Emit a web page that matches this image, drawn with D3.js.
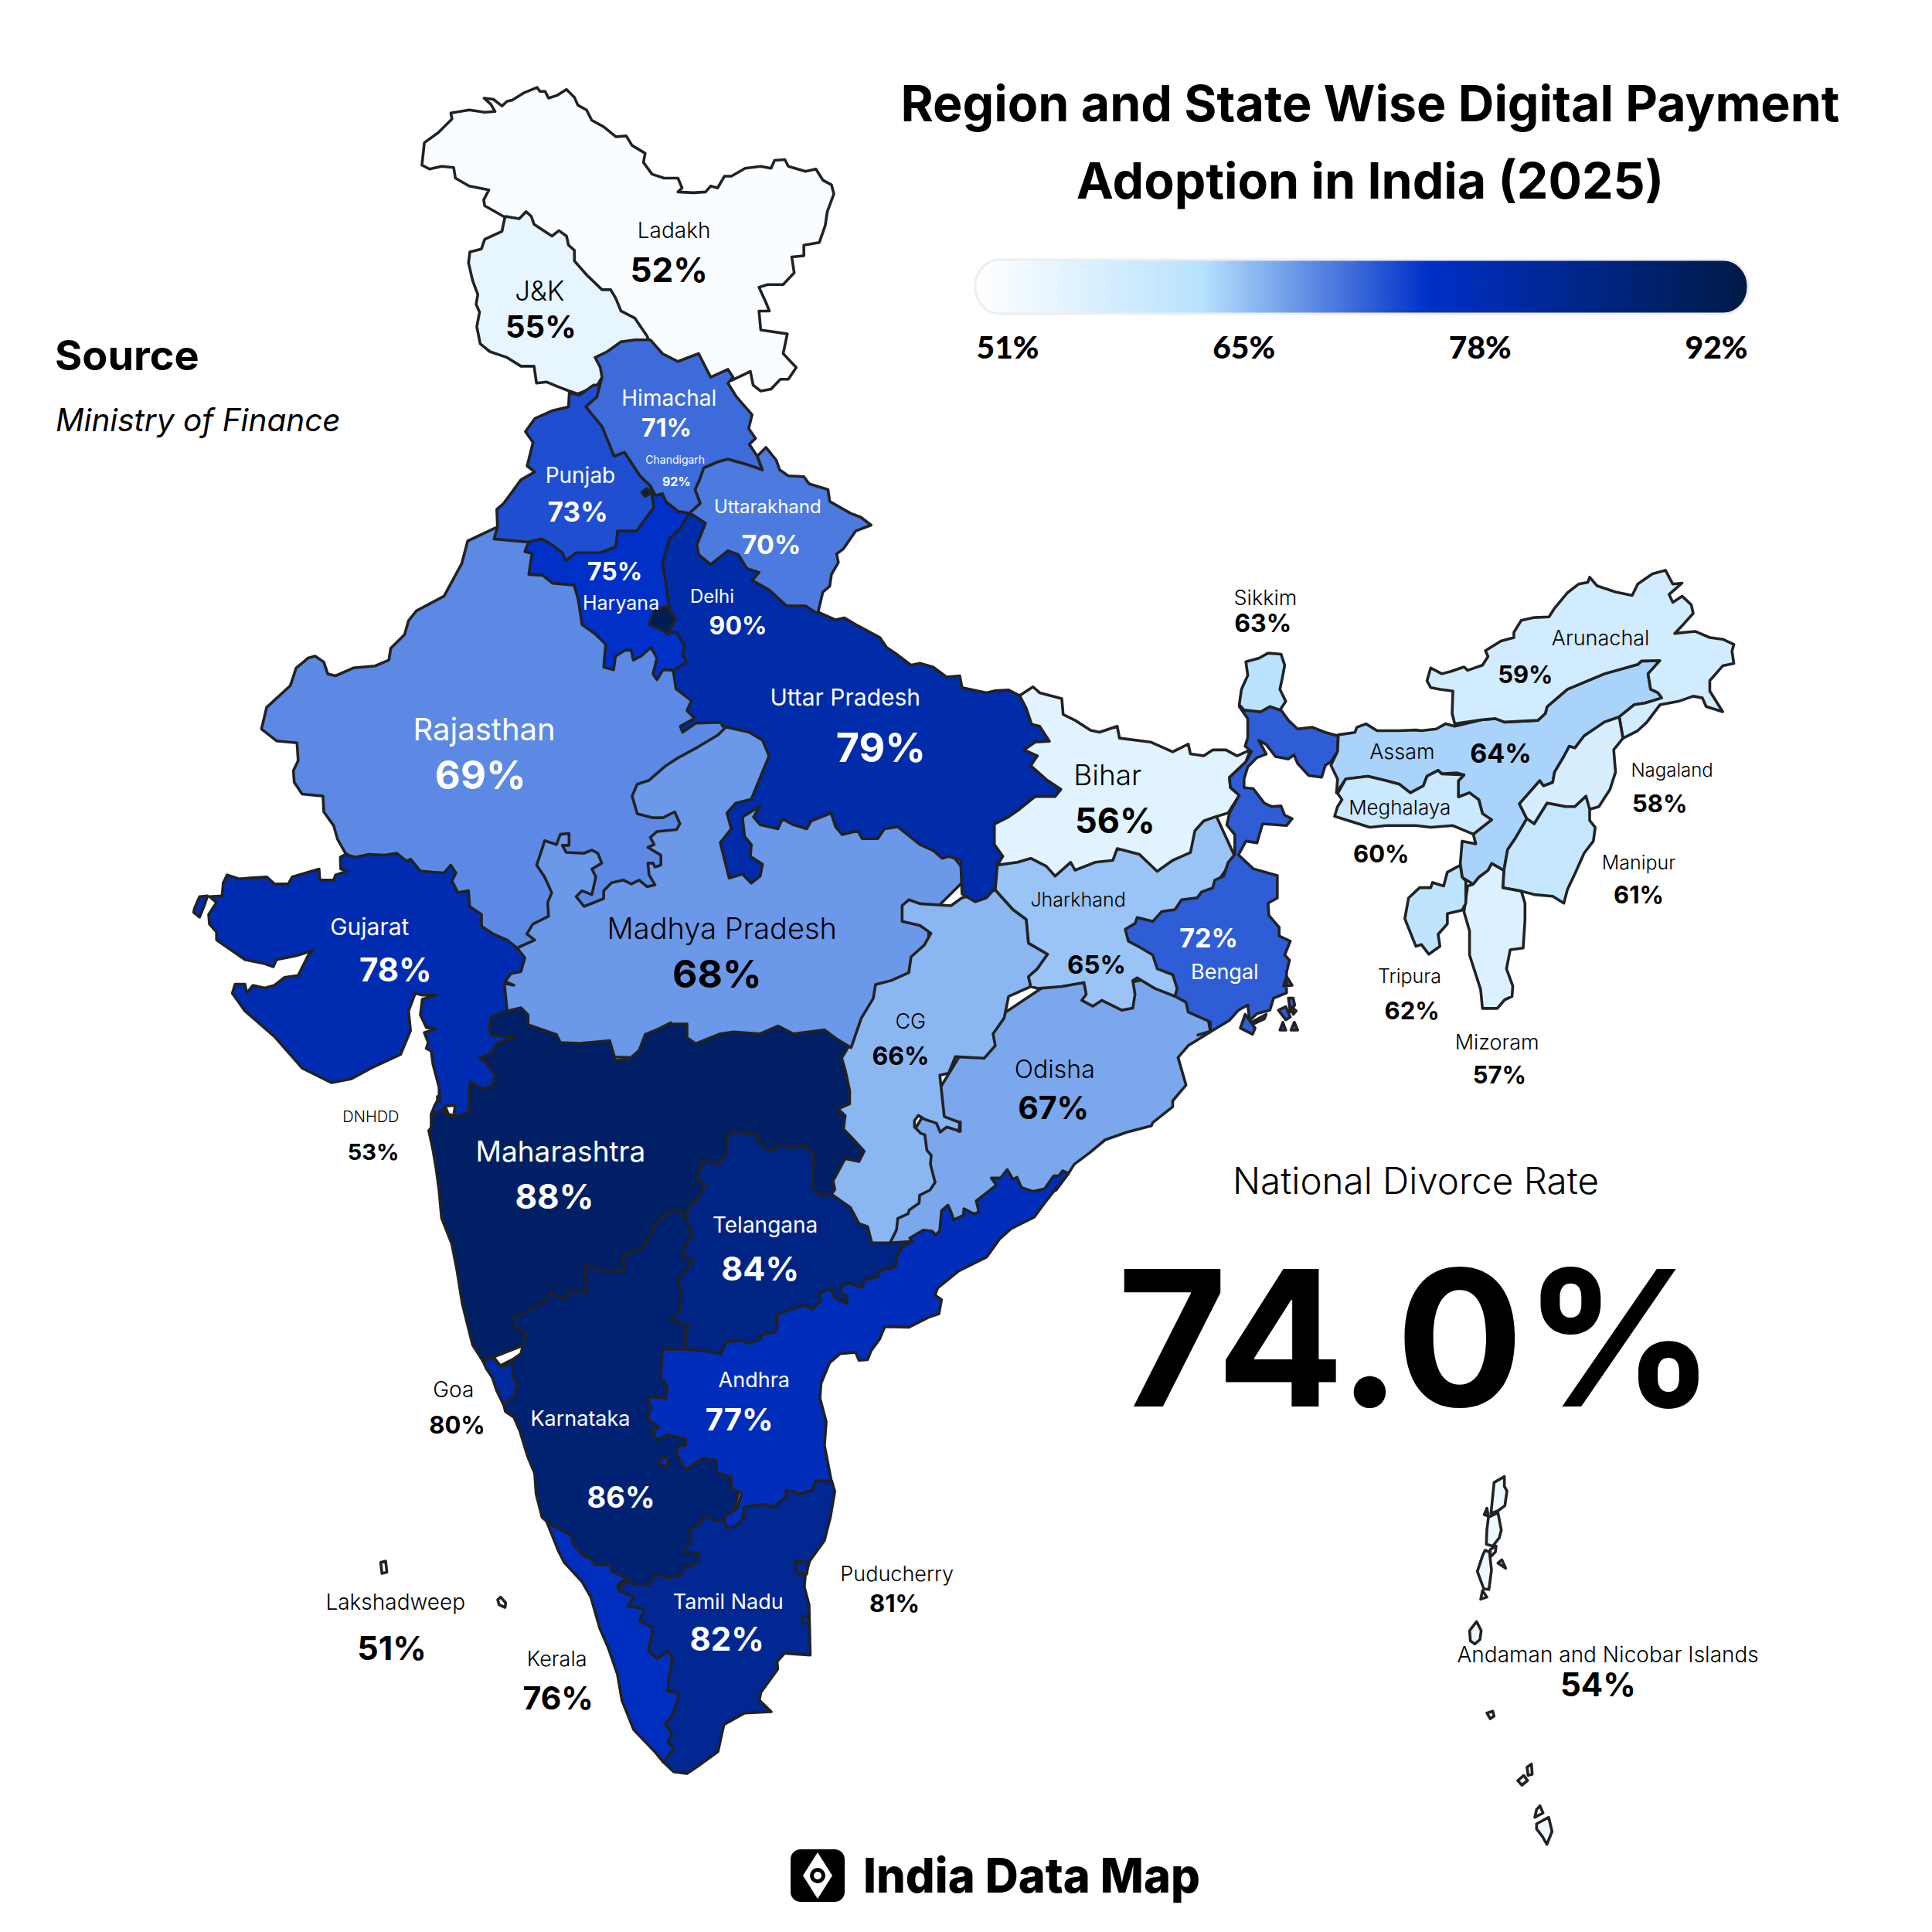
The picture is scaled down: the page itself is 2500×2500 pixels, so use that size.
<!DOCTYPE html>
<html lang="en">
<head>
<meta charset="utf-8">
<title>Region and State Wise Digital Payment Adoption in India (2025)</title>
<script src="https://cdn.jsdelivr.net/npm/d3@7"></script>
<style>
  html, body { margin: 0; background: #fff; }
  text { font-family: Inter, "Noto Sans", sans-serif; }
</style>
</head>
<body>
<script>
// values
var stateNames = ["Ladakh","J&K","Himachal","Punjab","Chandigarh","Uttarakhand","Haryana","Delhi","Rajasthan","Uttar Pradesh","Bihar","Sikkim","Arunachal","Assam","Nagaland","Meghalaya","Manipur","Tripura","Mizoram","Jharkhand","Bengal","Gujarat","Madhya Pradesh","CG","Odisha","DNHDD","Maharashtra","Telangana","Andhra","Goa","Karnataka","Puducherry","Tamil Nadu","Kerala","Lakshadweep","Andaman and Nicobar Islands"];
var stateRates = [52,55,71,73,92,70,75,90,69,79,56,63,59,64,58,60,61,62,57,65,72,78,68,66,67,53,88,84,77,80,86,81,82,76,51,54];
var legendTicks = [51,65,78,92];
var rampStops = [51,63,75,92];
var rampColours = ["#ffffff","#b8e2fe","#0030c8","#001a45"];
var titleLines = ["Region and State Wise Digital Payment","Adoption in India (2025)"];
var nationalLabel = "National Divorce Rate";
var nationalRate = "74.0%";

// label spots in the 1568 px overview: name x,y,size  value x,y,size  colour
var labelSpots = {
  "Ladakh":[547,187,28, 543,219,44,"#000"], "J&K":[438,236,35, 439,265,40,"#000"],
  "Himachal":[543,323,28, 541,347,32,"#fff"], "Punjab":[471,386,28, 469,415,35,"#fff"],
  "Chandigarh":[548,373,14, 549,391,16,"#fff"], "Uttarakhand":[623,411,24, 626,442,34,"#fff"],
  "Haryana":[504,489,25, 499,464,32,"#fff"], "Delhi":[578,484,24, 599,508,32,"#fff"],
  "Rajasthan":[393,592,40, 390,629,51,"#fff"], "Uttar Pradesh":[686,566,30, 715,607,52,"#fff"],
  "Bihar":[899,629,37, 905,666,45,"#000"], "Sikkim":[1027,485,27, 1025,506,32,"#000"],
  "Arunachal":[1299,518,27, 1238,547,31,"#000"], "Assam":[1138,610,27, 1218,611,34,"#000"],
  "Nagaland":[1357,625,24, 1347,652,31,"#000"], "Meghalaya":[1136,655,26, 1121,693,31,"#000"],
  "Manipur":[1330,700,25, 1330,726,31,"#000"], "Tripura":[1144,792,25, 1146,820,31,"#000"],
  "Mizoram":[1215,846,27, 1217,872,31,"#000"], "Jharkhand":[875,730,25, 890,783,33,"#000"],
  "Bengal":[994,789,27, 981,761,34,"#fff"], "Gujarat":[300,752,30, 321,787,42,"#fff"],
  "Madhya Pradesh":[586,753,38, 582,790,50,"#000"], "CG":[739,829,27, 731,857,32,"#000"],
  "Odisha":[856,868,32, 855,899,41,"#000"], "DNHDD":[301,906,20, 303,935,29,"#000"],
  "Maharashtra":[455,934,37, 450,971,44,"#fff"], "Telangana":[621,994,28, 617,1029,43,"#fff"],
  "Andhra":[612,1120,27, 600,1152,40,"#fff"], "Goa":[368,1128,28, 371,1156,31,"#000"],
  "Karnataka":[471,1151,27, 504,1215,38,"#fff"], "Puducherry":[728,1277,27, 726,1301,31,"#000"],
  "Tamil Nadu":[591,1300,27, 590,1330,42,"#fff"], "Kerala":[452,1346,27, 453,1378,41,"#000"],
  "Lakshadweep":[321,1300,28, 318,1337,43,"#000"], "Andaman and Nicobar Islands":[1305,1343,28, 1297,1367,42,"#000"]
};

function sheet(x0, y0, kx, ky) {
  return function(s) {
    return s.trim().split(/\s+/).map(function(p) {
      var c = p.split(",");
      return [x0 + c[0]*kx, y0 + c[1]*ky];
    });
  };
}
var A = sheet(500,80,700/1568,800/1568);
var B = sheet(220,650,800/1568,800/1568);
var C = sheet(800,700,900/1568,800/1568);
var D = sheet(1550,700,750/1568,700/1568);
var E = sheet(520,1350,700/1568,600/1568);
var F = sheet(600,1850,600/1568,1/3);
var G = sheet(1850,1880,1/3,1/3);
var H = sheet(1100,1400,1/3,1/3);
var O = sheet(0,0,2500/1568,2500/1568);

// listed in paint order: later outlines cover the rough edges of earlier ones
var outlines = [
["Ladakh",[A("103,262 110,205 150,180 190,145 187,130 240,122 285,128 315,126 303,108 283,92 310,95 335,112 350,100 365,97 400,78 437,65 445,75 460,75 470,92 495,85 522,70 545,90 555,110 580,122 595,148 630,165 665,190 695,188 712,212 750,232 745,255 770,285 805,295 845,295 857,320 845,330 890,332 925,330 940,315 960,320 980,290 1000,290 1040,270 1085,265 1115,270 1125,250 1155,248 1165,265 1215,278 1245,272 1265,300 1290,312 1297,335 1278,380 1272,415 1255,458 1210,465 1210,492 1175,495 1182,535 1150,565 1105,565 1080,572 1100,610 1110,632 1080,632 1085,680 1162,690 1150,740 1188,775 1165,805 1142,805 1115,830 1085,835 1063,820 1055,785 1020,800 1000,808 990,790 945,810 905,760 845,780 765,730 600,600 420,500 345,395 285,365 282,350 297,325 240,315 200,295 195,268 160,265 125,272")]],
["J&K",[A("345,392 385,398 405,380 420,392 428,412 450,425 480,442 500,428 522,442 528,465 545,478 545,505 580,540 625,578 650,578 665,600 680,632 720,650 755,695 765,715 720,725 680,730 640,750 625,800 610,822 555,842 530,835 500,825 465,812 435,815 428,772 390,772 350,750 300,735 272,715 262,672 270,635 260,615 265,590 250,555 238,510 242,482 275,475 285,450 335,430 342,400")]],
["Rajasthan",[B("825,65 755,98 740,155 695,238 625,275 605,300 595,335 560,370 555,400 520,415 465,420 420,440 400,435 390,405 368,390 350,395 320,420 305,465 245,520 232,575 270,605 322,610 325,655 313,680 315,710 335,740 388,745 390,785 415,820 425,855 445,890 600,1000 860,1140 1000,1200 1500,900 1450,650 1600,550 1400,430 1260,350 1100,200 950,110 900,60")]],
["Madhya Pradesh",[B("1410,570 1390,590 1340,620 1285,650 1255,670 1215,705 1185,715 1172,745 1185,790 1225,800 1250,800 1280,785 1293,815 1285,830 1235,835 1218,850 1228,868 1212,875 1245,895 1245,920 1230,925 1225,915 1212,915 1215,945 1230,970 1210,975 1190,958 1170,968 1150,958 1120,965 1100,985 1100,1005 1050,1025 1030,1000 1045,985 1070,995 1080,950 1070,930 1095,915 1085,890 1070,882 1050,890 1005,888 995,870 1012,870 1012,840 990,842 980,868 950,858 945,875 930,920 950,950 968,990 958,1015 960,1050 920,1070 905,1095 925,1110 885,1128 870,1150 840,1200 835,1300 900,1400 1568,1420")
  .concat(C("560,1300 700,1100 700,950 790,850 700,720 400,500 300,470 240,465"))]],
["Odisha",[C("1335,1245 1285,1280 1262,1310 1280,1380 1250,1420 1250,1435 1205,1475")
  .concat(H("1170,170 1075,195 990,225 930,275 870,320 848,355 800,420 500,550 300,620 160,640 120,400"))
  .concat(C("800,1250 1000,1100 1100,1130 1250,1100 1320,1150"))]],
["Maharashtra",[E("85,240 85,285 78,295 90,360 100,430 108,500 115,590 145,680 160,770 175,880 205,1020 235,1075 400,1000 600,900 825,595 1000,600 1300,520 1350,300 1295,10")
  .concat(C("495,1265 465,1240 395,1250 360,1230 320,1250 260,1245 230,1250 175,1275 155,1260 155,1225 120,1225"))
  .concat(B("1270,1320 1240,1335 1205,1350 1190,1390 1165,1412 1130,1415 1115,1365 1040,1372 990,1370 980,1350 908,1325 908,1300 890,1282 855,1290 800,1300"))
  .concat(E("150,100"))]],
["Karnataka",[E("265,1060 285,1090 320,1070 345,1050 360,980 330,960 325,925 365,905 420,870 430,845 475,865 480,840 535,840 530,750 575,770 645,770 640,720 695,695 730,630 735,610 775,570 800,565 825,595 842,650 825,680 810,720 845,735 820,770 800,800 810,850 805,905 780,935 835,958 820,970 825,1035")
  .concat(F("860,60 930,240 910,340 850,500 700,640 540,620 350,430 280,355 265,340 245,250 240,170 215,100 190,5"))
  .concat(E("325,1265 300,1245 295,1222 300,1150 275,1090"))]],
["Telangana",[E("825,595 830,550 855,530 880,480 855,460 875,395 920,410 940,370 945,310 960,298 1025,310 1045,350 1080,365 1090,340 1125,355 1165,345 1195,375 1190,425 1190,490 1215,515 1245,510 1300,555 1325,610 1350,620 1362,675 1415,675 1480,670 1450,690 1435,720 1430,755 1385,770 1380,790 1340,800 1335,825 1290,810 1272,825 1275,845 1290,855 1290,880 1270,870 1250,855 1245,830 1210,845 1215,870 1190,900 1170,885 1130,900 1090,915 1085,975 1045,985 1040,1000 1008,1015 985,1005 940,1010 925,1050 875,1040 825,1035 820,970 835,958 780,935 805,905 810,850 800,800 820,770 845,735 810,720 825,680 842,650")]],
["Andhra",[E("755,1035 825,1035 875,1040 925,1050 940,1010 985,1005 1008,1015 1040,1000 1045,985 1085,975 1090,915 1130,900 1170,885 1190,900 1215,870 1210,845 1245,830 1250,855 1270,870 1290,880 1290,855 1275,845 1272,825 1290,810 1335,825 1340,800 1380,790 1385,770 1430,755 1435,720 1450,690 1480,670")
  .concat(H("240,620 232,606 285,575 320,580 332,595 348,578 355,500 380,478 392,505 402,535 440,518 442,492 480,512 500,505 490,462 568,400 548,373 585,372 610,340 632,378 648,370 665,410 710,425 755,415 790,365 810,365 825,345 848,355 810,400 755,470 715,525 625,570 580,610 530,680 480,705 420,735 340,800 330,828 355,845 345,900"))
  .concat(E("1530,925 1470,960 1400,958 1385,1000 1360,1040 1350,1070 1325,1072 1315,1045 1270,1050 1240,1080 1215,1150 1212,1200 1230,1280 1225,1360 1240,1450 1245,1480"))
  .concat(F("1190,200 1180,235 1135,250 1115,240 1090,235 1090,262 1050,300 1015,290 950,300 945,345 920,375 890,380 880,350 885,335 925,305 940,245 905,230 905,185 855,165 855,120 810,110 750,155 735,125 720,95 725,65 750,60 750,35 690,20 650,40 640,0"))
  .concat(E("745,1300 712,1270 722,1235 712,1195 765,1200 770,1160 750,1130")),
  F("660,132 672,105 692,112 690,146")]],
["Tamil Nadu",[F("550,590 580,600 630,600 640,570 660,560 680,575 735,565 745,535 775,530 795,500 795,480 745,475 770,430 765,385 800,365 810,335 860,355 880,350 890,380 920,375 945,345 950,300 1015,290 1050,300 1090,262 1090,235 1115,240 1135,250 1180,235 1190,200 1245,200 1255,240 1240,340 1220,430 1170,510 1155,570 1152,610 1168,680 1172,875 1085,868 1060,900 1062,930 1005,1020 1000,1050 1040,1095 950,1100 880,1145 860,1250 800,1300 755,1335 710,1328 675,1290 620,1100 600,800 500,640")]],
["Kerala",[F("280,355 305,375 340,395 365,410 370,445 405,490 430,500 445,525 495,525 500,550 550,575 520,605 525,625 575,650 555,685 610,695 595,742 640,770 625,860 655,890 690,860 705,885 700,930 695,960 690,1015 725,1022 725,1050 700,1120 680,1140 705,1180 690,1210 710,1240 675,1290 650,1255 575,1165 535,1050 520,950 490,850 460,770 430,650 400,590 340,515 320,470")]],
["Goa",[E("235,1075 265,1062 285,1092 320,1085 322,1130 335,1150 325,1195 295,1222 275,1175 262,1130 245,1100")]],
["Puducherry",[F("1122,510 1165,515 1160,560 1125,558"),F("1145,725 1168,725 1168,750 1145,750")]],
["Gujarat",[B("445,893 432,900 433,930 450,935 420,945 415,958 380,958 378,930 310,950 300,968 265,968 245,950 210,952 175,955 145,945 135,965 132,998 100,1000 118,1015 98,1045 100,1070 118,1090 118,1110 190,1160 240,1170 262,1178 270,1160 320,1150 362,1137 350,1150 325,1200 290,1205 265,1225 240,1232 210,1225 195,1245 190,1222 165,1222 158,1245 190,1290 265,1355 335,1435 410,1472 460,1462 510,1435 585,1400 610,1340 605,1290 622,1245 640,1250 675,1250 640,1260 635,1300 650,1332 675,1335 645,1345 655,1370 650,1385")
  .concat(E("85,26 90,70 108,150 108,185 95,210 85,240 130,218 125,238 150,250 195,232 195,170 198,130 235,155 260,145 272,110 245,65 225,50 258,35"))
  .concat(B("830,1370 875,1358 815,1352 810,1330 815,1305 855,1290 850,1240 848,1220 872,1225 850,1215 865,1195 890,1190 900,1155 880,1130 855,1110 820,1095 790,1075 790,1045 760,1025 757,985 730,990 715,960 725,940 712,920 695,940 665,938 635,935 610,905 600,910 575,890 545,895 505,893 470,900")),
  B("62,1030 75,1000 95,998 88,1020 75,1052 60,1040")]],
["DNHDD",[E("125,212 155,210 150,245 135,240"),E("103,180 110,178 112,195 103,195")]],
["CG",[C("525,1285 548,1210 575,1160 580,1125 615,1115 655,1095 660,1055 690,1025 705,995 680,975 640,965 640,925 655,910 680,920 750,925 775,905 850,885 890,935 920,960 925,1020 968,1048 945,1085 925,1105 930,1130 880,1155 870,1210 845,1250 850,1280 825,1312 760,1308 745,1350 725,1355 735,1460 770,1475 768,1498")
  .concat(H("428,155 428,192 375,175 350,195 335,160 290,145 265,130 250,150 250,175 275,200 290,205 298,265 315,285 312,320 330,390 310,420 270,440 268,470 230,497 225,512 185,530 180,575 155,625"))
  .concat(E("1362,675 1350,620 1325,610 1300,555 1245,510 1255,495 1250,465 1285,390 1325,400 1340,365 1305,320 1280,290 1285,245 1265,222 1298,205 1298,160 1285,90 1275,50 1295,10"))]],
["Uttar Pradesh",[C("160,-70 300,0 400,100 450,180 490,200 510,195 540,215 590,245 605,270 625,285 660,315 680,310 710,320 740,345 770,342 775,372 830,385 850,380 880,378 905,392 920,425 932,465 950,470 972,508 940,510 915,530 945,545 930,570 965,605 998,630 985,648 940,648 905,680 880,700 848,718 848,770 867,800 855,825 850,880 830,905 805,915 775,895 772,810 745,800 730,805 710,785 680,770 630,725 600,730 585,755 550,755 540,735 505,745 490,725 480,690 435,710 425,730 395,720 370,705 360,730 320,720 305,700 320,672 295,690 280,700 285,750 300,770 298,800 325,820 320,850 300,868 280,845 250,855 240,810 230,765 255,730 245,690 265,665 300,655 340,545 325,505 295,485 235,470 232,460 175,462 145,485 140,470 172,450 155,430 165,405 130,375 125,335 100,280 80,150 100,0")]],
["Haryana",[A("765,1075 780,1100 800,1095 810,1115 845,1140 878,1145 850,1185 820,1210 800,1275 810,1320 820,1385")
  .concat(B("1262,330 1285,330 1305,365 1300,385 1310,405 1280,425 1250,425 1235,450 1225,435 1235,395 1220,368 1195,390 1175,400 1170,375 1155,375 1130,390 1125,425 1100,418 1105,360 1080,335 1045,310 1035,245 1025,210 970,205 945,185 910,183 918,130 900,125 910,100 945,90 1030,100 1100,80 1120,50 1180,0"))]],
["Delhi",[B("1215,310 1230,270 1262,265 1282,295 1262,335 1245,322")]],
["Punjab",[A("530,840 528,875 480,885 430,905 403,938 425,965 408,1025 430,1040 390,1060 340,1120 320,1135 322,1180 312,1210 410,1218 450,1210 480,1225 510,1245 520,1265 550,1245 620,1245 665,1230 670,1190 700,1190 725,1190 750,1160 775,1130 770,1100 765,1075 735,1050 690,990 700,900 620,820 600,820 560,845")]],
["Himachal",[A("765,705 800,740 845,760 905,740 940,800 990,780 1005,800 990,815 1015,850 1060,895 1050,930 1070,955 1052,970 1075,1000 1090,1035 1040,1020 990,1008 960,1015 920,1030 908,1060 895,1085 910,1120 880,1145 845,1140 810,1115 800,1095 780,1100 765,1075 735,1050 690,990 660,1000 625,925 578,875 610,850 625,800 620,775 605,750 640,735 680,710 720,705")]],
["Chandigarh",[A("740,1092 755,1082 765,1095 750,1102")]],
["Uttarakhand",[A("878,1145 910,1120 895,1085 908,1060 920,1030 960,1015 990,1008 1040,1020 1090,1035 1075,1000 1100,978 1130,1010 1140,1035 1165,1050 1210,1052 1225,1070 1280,1085 1285,1115 1345,1145 1375,1155 1405,1175 1360,1190 1325,1235 1305,1248 1310,1270 1290,1300 1285,1330 1265,1345 1250,1400 1215,1380 1160,1380 1110,1340 1060,1315 1080,1295 1045,1285 1020,1250 990,1240 940,1275 905,1250 900,1225 925,1170 890,1150")]],
["Jharkhand",[C("850,885 890,935 920,960 925,1020 968,1048 945,1085 925,1105 930,1130 945,1135 1000,1130 1050,1120 1055,1150 1045,1165 1070,1180 1090,1165 1135,1190 1160,1185 1165,1150 1160,1115 1170,1108 1210,1135 1255,1155 1300,1100 1300,950 1390,800 1345,690 1100,750 1000,790 855,815")]],
["Bihar",[C("905,392 935,370 950,385 1000,400 1003,440 1030,455 1065,480 1085,485 1125,470 1130,500 1200,510 1250,535 1285,515 1290,540 1320,545 1340,530 1370,530 1395,545 1425,530 1415,560 1378,600 1380,625 1400,645 1375,690 1345,700 1320,710 1300,735 1290,790 1250,810 1215,838 1175,795 1125,780 1115,810 1075,815 1030,835 1020,815 985,850 965,825 930,805 900,815 855,822 867,800 848,770 848,718 880,700 905,680 940,648 985,648 998,630 965,605 930,570 945,545 915,530 940,510 972,508 950,470 932,465 920,425")]],
["Bengal",[C("1335,1245 1335,1220 1285,1195 1280,1170 1255,1155 1260,1135 1250,1100 1215,1085 1205,1050 1175,1030 1150,1015 1143,985 1165,970 1170,955 1205,965 1225,940 1255,935 1270,910 1305,905 1315,890 1340,880 1345,860 1365,850 1375,815 1390,795 1390,745 1372,720 1378,690 1400,645 1380,625 1378,600 1415,560")
  .concat(D("145,610 128,595 135,570 135,515 112,480 125,490 170,495 195,480 225,490 245,520 270,545 310,540 345,555 380,565 378,610 360,640 345,650 335,685 300,680 270,645 260,620 245,632 210,625 185,590 165,578 185,618 160,628 135,655 125,690 125,715 150,718 180,760 200,770 225,768 235,795 255,805 240,825 175,820 160,875 130,870 110,910 150,950 215,970 215,1035 190,1050 192,1085 220,1120 220,1145 250,1160 235,1200 248,1215 240,1250 240,1310 205,1325 195,1360 160,1370 140,1390 135,1345 110,1360 85,1390 38,1420 0,1432")),
  D("232,1290 240,1262 255,1288"), D("218,1360 238,1350 250,1380 238,1388"), D("245,1325 258,1325 262,1345 250,1365"), D("252,1350 266,1362 258,1372"),
  D("222,1418 230,1395 238,1418"), D("252,1418 261,1395 270,1418"),
  D("115,1412 128,1372 155,1412 148,1430"), D("145,1395 185,1372 180,1385 150,1400")]],
["Sikkim",[D("130,350 165,340 190,325 225,328 235,360 228,400 222,430 238,465 222,490 195,480 170,495 125,490 112,475 118,430 135,390")]],
["Assam",[D("380,562 425,555 430,540 455,530 485,550 545,550 590,548 605,550 645,545 670,530 695,537 770,518 805,515 830,525 920,520 940,500 945,480 1000,430 1040,412 1100,385 1190,358 1200,348 1250,347 1218,385 1225,430 1245,440 1255,455 1210,470 1180,475 1140,510 1100,525 1045,565 1020,600 1005,595 990,625 965,670 960,700 935,710 925,695 870,762 890,805 860,860 838,895 828,955 795,935 785,955 760,975 745,995 715,975 710,935 715,870 752,878 745,850 790,810 770,790 760,750 735,730 705,742 705,695 720,678 700,672 660,675 650,665 620,682 610,710 575,730 545,705 510,695 460,682 400,690 375,730 378,690 360,650 378,610")]],
["Meghalaya",[D("400,690 460,682 510,695 545,705 575,730 610,710 620,682 650,665 660,675 720,678 705,695 705,742 735,730 760,750 770,790 795,808 745,850 690,825 630,830 590,825 510,825 465,830 420,815 370,798 378,770 390,750 378,732")]],
["Arunachal",[D("630,368 660,385 685,378 720,365 730,375 770,360 785,335 778,318 820,290 855,280 855,265 875,230 910,222 950,220 965,195 1000,150 1030,125 1055,120 1060,105 1080,130 1130,148 1175,158 1190,125 1230,95 1265,85 1285,125 1310,122 1275,155 1285,178 1310,160 1335,185 1340,210 1315,240 1290,268 1345,262 1385,280 1420,285 1450,300 1445,320 1450,355 1420,362 1385,405 1385,435 1420,495 1375,480 1365,455 1340,450 1300,465 1250,475 1215,525 1190,550 1150,572 1140,510 1180,475 1210,470 1255,455 1245,440 1225,430 1218,385 1250,347 1200,348 1190,358 1100,385 1040,412 1000,430 945,480 940,500 920,520 830,525 805,515 770,518 695,530 688,500 690,435 655,430 630,425 620,405")]],
["Nagaland",[D("1140,510 1150,572 1125,605 1130,670 1115,720 1085,770 1060,778 1045,760 1050,740 1020,770 995,770 945,760 910,820 890,805 870,762 925,695 935,710 960,700 965,670 990,625 1005,595 1020,600 1045,565 1100,525")]],
["Manipur",[D("945,760 995,770 1020,770 1050,740 1060,778 1060,810 1075,830 1070,870 1045,905 1020,965 1000,1010 990,1050 960,1030 910,1025 875,1015 825,1005 828,955 838,895 860,860 890,805 910,820")]],
["Mizoram",[D("745,995 760,975 785,955 795,935 828,955 825,1005 875,1015 885,1050 885,1100 880,1180 845,1185 835,1240 852,1290 850,1320 830,1330 810,1355 770,1355 765,1300 735,1200 735,1130 720,1075 730,1000")]],
["Tripura",[D("710,940 715,975 725,985 725,1050 715,1070 675,1080 675,1110 650,1140 655,1175 625,1198 605,1170 590,1175 560,1095 570,1035 600,1005 630,1005 635,990 665,1000 675,960")]],
["Lakshadweep",[F("115,660 125,650 142,672 140,690 120,680"),O("309,1268 313,1267 314,1276 310,1277")]],
["Andaman and Nicobar Islands",[
  G("250,115 290,92 290,130 300,148 292,205 265,225 238,235"), G("228,250 265,232 278,300 270,330 245,362 220,355 222,300"),
  G("215,378 232,385 240,455 230,530 210,528 185,460 205,400"), G("235,375 258,362 255,385 235,405"),
  G("212,240 222,215 228,245"), G("265,428 280,415 295,448"), G("205,535 222,560 198,568"),
  G("155,690 182,655 200,690 195,725 175,742 158,730"), G("222,1010 245,1003 250,1022 235,1032"),
  G("342,1272 365,1252 380,1272 358,1290"), G("378,1220 395,1208 398,1248 382,1252"),
  G("415,1385 428,1370 440,1398 408,1415"), G("415,1440 462,1415 475,1470 455,1520 438,1490 415,1460")]]
];

var w = 2500, h = 2500;
var rateOf = {};
stateNames.forEach(function(n, i) { rateOf[n] = stateRates[i]; });

var colour = d3.scaleLinear().domain(rampStops).range(rampColours);
var pic = d3.scaleLinear().domain([0,1568]).range([0,2500]);

var svg = d3.select("body").append("svg")
    .attr("width", w).attr("height", h)
    .style("display", "block");

// map
var features = outlines.map(function(o) {
  return {
    type: "Feature",
    properties: {name: o[0]},
    geometry: {type: "MultiPolygon", coordinates: o[1].map(function(r) { return [r.concat([r[0]])]; })}
  };
});
var path = d3.geoPath(d3.geoIdentity());
svg.append("g").selectAll("path")
    .data(features)
    .enter().append("path")
    .attr("d", path)
    .attr("fill", function(d) { return colour(rateOf[d.properties.name]); })
    .attr("stroke", "#222")
    .attr("stroke-width", 3.6)
    .attr("stroke-linejoin", "round");

// state labels
var labels = svg.append("g").selectAll("g")
    .data(stateNames)
    .enter().append("g")
    .attr("fill", function(d) { return labelSpots[d][6]; })
    .attr("text-anchor", "middle")
    .attr("dominant-baseline", "central");
labels.append("text")
    .attr("x", function(d) { return pic(labelSpots[d][0]); })
    .attr("y", function(d) { return pic(labelSpots[d][1]); })
    .attr("font-size", function(d) { return labelSpots[d][2]; })
    .attr("font-weight", function(d) { return labelSpots[d][6] == "#000" ? 300 : 400; })
    .text(function(d) { return d; });
labels.append("text")
    .attr("x", function(d) { return pic(labelSpots[d][3]); })
    .attr("y", function(d) { return pic(labelSpots[d][4]); })
    .attr("font-size", function(d) { return labelSpots[d][5]; })
    .attr("font-weight", 700)
    .text(function(d) { return rateOf[d] + "%"; });

// title
svg.append("g").selectAll("text")
    .data(titleLines)
    .enter().append("text")
    .attr("x", 1773)
    .attr("y", function(d, i) { return 157 + i*100; })
    .attr("text-anchor", "middle")
    .attr("font-size", 64.5)
    .attr("font-weight", 700)
    .text(function(d) { return d; });

// legend
var barX = d3.scaleLinear().domain([rampStops[0], rampStops[3]]).range([1262,2262]);
var grad = svg.append("defs").append("linearGradient").attr("id", "ramp");
rampStops.forEach(function(s, i) {
  grad.append("stop")
      .attr("offset", (barX(s)-barX(rampStops[0]))/(barX(rampStops[3])-barX(rampStops[0])))
      .attr("stop-color", rampColours[i]);
});
svg.append("rect")
    .attr("x", barX(51)).attr("y", 336)
    .attr("width", barX(92)-barX(51)).attr("height", 70)
    .attr("rx", 32).attr("ry", 34)
    .attr("fill", "url(#ramp)")
    .attr("stroke", "#eeeeee").attr("stroke-width", 3);
var tickX = d3.scaleLinear().domain([0,3]).range([1304,2221]);
svg.append("g").selectAll("text")
    .data(legendTicks)
    .enter().append("text")
    .attr("x", function(d, i) { return tickX(i); })
    .attr("y", 464)
    .attr("text-anchor", "middle")
    .style("font-family", "Lato")
    .attr("font-size", 40)
    .attr("font-weight", 900)
    .attr("textLength", 81)
    .attr("lengthAdjust", "spacingAndGlyphs")
    .text(function(d) { return d + "%"; });

// source
svg.append("text").attr("x", 71).attr("y", 479)
    .attr("font-size", 54).attr("font-weight", 700).text("Source");
svg.append("text").attr("x", 72).attr("y", 558)
    .attr("font-size", 40.5).attr("font-style", "italic").text("Ministry of Finance");

// national figure
svg.append("text").attr("x", 1832).attr("y", 1545)
    .attr("text-anchor", "middle").attr("font-size", 47.5).attr("font-weight", 300).text(nationalLabel);
svg.append("text").attr("x", 1833).attr("y", 1820)
    .attr("text-anchor", "middle").attr("font-size", 245).attr("font-weight", 700).text(nationalRate);

// logo
var logo = svg.append("g");
logo.append("rect").attr("x", 1023).attr("y", 2393).attr("width", 70).attr("height", 68).attr("rx", 13).attr("fill", "#000");
logo.append("path")
    .attr("d", d3.line()([[1058,2397],[1077,2427],[1058,2457],[1039,2427]]) + "Z")
    .attr("fill", "#fff");
logo.append("circle").attr("cx", 1058).attr("cy", 2427).attr("r", 7.5)
    .attr("fill", "#fff").attr("stroke", "#000").attr("stroke-width", 5);
svg.append("text").attr("x", 1117).attr("y", 2449)
    .attr("font-size", 62).attr("font-weight", 800)
    .attr("textLength", 436).attr("lengthAdjust", "spacingAndGlyphs")
    .text("India Data Map");
</script>
</body>
</html>
